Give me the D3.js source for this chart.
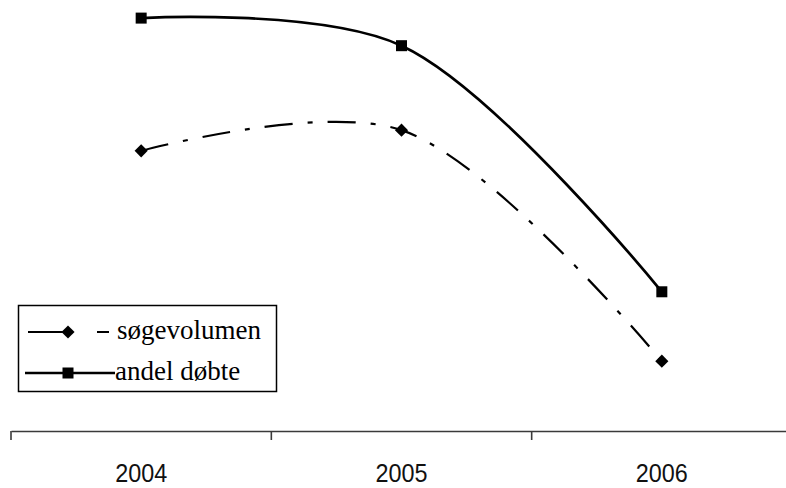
<!DOCTYPE html>
<html lang="da">
<head>
    <meta charset="UTF-8">
    <title>søgevolumen / andel døbte</title>
    <script src="https://d3js.org/d3.v7.min.js"></script>
    <style>
        body { margin: 0; background: #fff; }
    </style>
</head>
<body>
<script>
    // data (no y axis shown, so the scale is arbitrary 0-100)
    var years = ["2004", "2005", "2006"];
    var sogevolumen = [65.0, 69.8, 16.2];
    var andelDobte = [95.8, 89.4, 32.3];
    var seriesNames = ["søgevolumen", "andel døbte"];

    var width = 786,
        height = 488,
        axisY = 431;

    var svg = d3.select("body").append("svg")
        .attr("width", width)
        .attr("height", height);

    var x = d3.scaleBand()
        .domain(years)
        .range([11, 792]);

    var y = d3.scaleLinear()
        .domain([0, 100])
        .range([axisY, 0]);

    var line = d3.line()
        .x(function (d, i) { return x(years[i]) + x.bandwidth() / 2; })
        .y(function (d) { return y(d); })
        .curve(d3.curveCatmullRom);

    // x axis: labels in the middle of each band, ticks on band edges
    var axis = svg.append("g")
        .attr("transform", "translate(0," + axisY + ")")
        .call(d3.axisBottom(x).tickSize(0).tickPadding(0));
    axis.select(".domain").attr("stroke", "#3a3a3a").attr("stroke-width", 1.6);
    axis.selectAll(".tick text")
        .attr("y", 51)
        .attr("dy", 0)
        .attr("fill", "#111")
        .attr("font-family", "'Liberation Sans', Arial, sans-serif")
        .attr("font-size", 26)
        .attr("textLength", 52)
        .attr("lengthAdjust", "spacingAndGlyphs");

    var edges = years.map(function (d) { return x(d); }).concat([x.range()[1]]);
    axis.selectAll(".edge")
        .data(edges)
        .enter().append("line")
        .attr("class", "edge")
        .attr("x1", function (d) { return d; })
        .attr("x2", function (d) { return d; })
        .attr("y1", 0)
        .attr("y2", 9)
        .attr("stroke", "#3a3a3a")
        .attr("stroke-width", 1.6);

    // lines
    svg.append("path")
        .datum(sogevolumen)
        .attr("d", line)
        .attr("fill", "none")
        .attr("stroke", "#000")
        .attr("stroke-width", 2.2)
        .attr("stroke-dasharray", "28,15,5,15");

    svg.append("path")
        .datum(andelDobte)
        .attr("d", line)
        .attr("fill", "none")
        .attr("stroke", "#000")
        .attr("stroke-width", 2.7);

    var diamond = d3.symbol().type(d3.symbolDiamond2).size(110);

    svg.selectAll(".diamond")
        .data(sogevolumen)
        .enter().append("path")
        .attr("class", "diamond")
        .attr("d", diamond)
        .attr("transform", function (d, i) {
            return "translate(" + (x(years[i]) + x.bandwidth() / 2) + "," + y(d) + ")";
        })
        .attr("fill", "#000");

    svg.selectAll(".square")
        .data(andelDobte)
        .enter().append("rect")
        .attr("class", "square")
        .attr("x", function (d, i) { return x(years[i]) + x.bandwidth() / 2 - 5.5; })
        .attr("y", function (d) { return y(d) - 5.5; })
        .attr("width", 11)
        .attr("height", 11)
        .attr("fill", "#000");

    // legend
    var legend = svg.append("g").attr("class", "legend");
    legend.append("rect")
        .attr("x", 18.5).attr("y", 305.5)
        .attr("width", 258).attr("height", 86)
        .attr("fill", "#fff")
        .attr("stroke", "#000")
        .attr("stroke-width", 1.5);

    var rows = legend.selectAll(".row")
        .data(seriesNames)
        .enter().append("g")
        .attr("class", "row")
        .attr("transform", function (d, i) { return "translate(0," + (332 + i * 41) + ")"; });

    rows.append("line")
        .attr("x1", function (d, i) { return i === 0 ? 28 : 25; })
        .attr("x2", function (d, i) { return i === 0 ? 109 : 115; })
        .attr("y1", 0).attr("y2", 0)
        .attr("stroke", "#000")
        .attr("stroke-width", function (d, i) { return i === 0 ? 2.2 : 2.7; })
        .attr("stroke-dasharray", function (d, i) { return i === 0 ? "36,33,12" : null; });

    rows.filter(function (d, i) { return i === 0; })
        .append("path")
        .attr("d", diamond)
        .attr("transform", "translate(68,0)")
        .attr("fill", "#000");

    rows.filter(function (d, i) { return i === 1; })
        .append("rect")
        .attr("x", 62.5).attr("y", -5.5)
        .attr("width", 11).attr("height", 11)
        .attr("fill", "#000");

    rows.append("text")
        .attr("x", function (d, i) { return i === 0 ? 117 : 115; })
        .attr("y", 7)
        .attr("font-family", "'Liberation Serif', 'Times New Roman', serif")
        .attr("font-size", 27)
        .attr("fill", "#000")
        .text(function (d) { return d; });
</script>
</body>
</html>
